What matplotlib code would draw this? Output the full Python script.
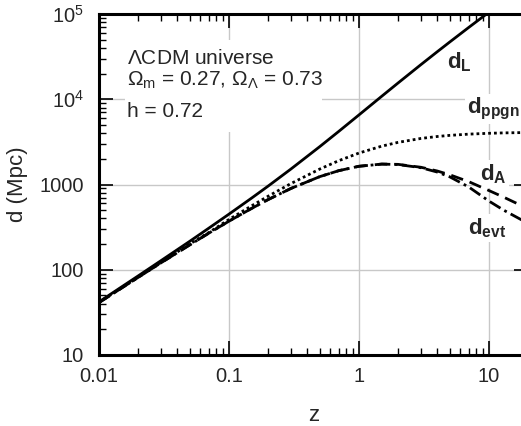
import matplotlib
matplotlib.use("Agg")
import matplotlib.pyplot as plt
from matplotlib.patches import Rectangle
from matplotlib.ticker import LogLocator, NullFormatter

# redshift grid and distances (Mpc)
z = [0.01, 0.02, 0.03, 0.05, 0.07, 0.1, 0.15, 0.2, 0.3, 0.5, 0.7, 1.0,
     1.5, 2.0, 3.0, 4.0, 5.0, 7.0, 10.0, 13.0, 20.0]
d_L = [42.0, 84.6, 127.9, 216, 307.6, 449, 696, 957, 1520, 2784, 4200, 6543,
       10858, 15510, 25480, 36020, 46940, 69590, 104900, 150000, 230000]
d_ppgn = [41.4, 82.1, 122.3, 200.9, 273, 389, 564, 728, 1026, 1518, 1903, 2338,
          2819, 3121, 3469, 3656, 3770, 3897, 3987, 4031, 4073]
d_A = [41.2, 81.3, 120.6, 196, 268.7, 371, 526, 665, 899, 1237, 1453, 1636,
       1737, 1723, 1593, 1441, 1300, 1080, 850, 710, 520]
d_evt = [41.2, 81.3, 120.6, 196, 268.7, 371, 526, 665, 899, 1237, 1453, 1636,
         1735, 1715, 1575, 1400, 1230, 935, 640, 500, 350]

xticks = [0.01, 0.1, 1, 10]
xlabels = ["0.01", "0.1", "1", "10"]
yticks = [10, 100, 1000, 1e4, 1e5]
ylabels = ["10", "100", "1000", "$10^4$", "$10^5$"]

W, H = 521, 426
L, R, T, B = 99, 528, 14, 355   # right spine sits just past the image edge
TXT = "#262626"

plt.rcParams.update({"font.family": "Liberation Sans", "mathtext.fontset": "custom",
                     "mathtext.rm": "Liberation Sans", "mathtext.it": "Liberation Sans:italic",
                     "mathtext.bf": "Liberation Sans:bold"})

fig = plt.figure(figsize=(W / 100, H / 100), dpi=100)
ax = fig.add_axes([L / W, 1 - B / H, (R - L) / W, (B - T) / H])


def axpos(x, y):
    return (x - L) / (R - L), (B - y) / (B - T)


ax.plot(z, d_L, color="black", lw=2.0, zorder=3)
ax.plot(z, d_ppgn, color="black", lw=2.0, ls=(0, (1, 1.1)), zorder=3)
ax.plot(z, d_A, color="black", lw=2.0, ls=(0, (4.5, 2.5)), zorder=3)
ax.plot(z, d_evt, color="black", lw=2.0, ls=(0, (4.5, 1.6, 1, 1.6)), zorder=3)

ax.set_xscale("log")
ax.set_yscale("log")
ax.set_xlim(0.01, 20)
ax.set_ylim(10, 1e5)
ax.set_xticks(xticks)
ax.set_xticklabels(xlabels)
ax.set_yticks(yticks)
ax.set_yticklabels(ylabels)
for a in (ax.xaxis, ax.yaxis):
    a.set_minor_locator(LogLocator(base=10, subs=range(2, 10), numticks=20))
    a.set_minor_formatter(NullFormatter())

ax.tick_params(which="both", direction="in", top=True, right=True,
               labelsize=14.5, labelcolor=TXT, color="black")
ax.tick_params(which="major", length=10, width=1.2)
ax.tick_params(which="minor", length=5, width=1.0, right=False)
ax.tick_params(axis="x", pad=9)
ax.tick_params(axis="y", pad=11)
for s in ("left", "bottom", "top"):
    ax.spines[s].set_linewidth(2.2)
ax.spines["right"].set_visible(False)

ax.grid(True, which="major", color="#c8c8c8", lw=1.0)
ax.set_axisbelow(True)

ax.set_xlabel("z", fontsize=16, color=TXT, labelpad=13)
ax.set_ylabel("d (Mpc)", fontsize=16, color=TXT, labelpad=8)

# white block behind the parameter text
x0, y1 = axpos(125, 40)
x1, y0 = axpos(322, 132)
ax.add_patch(Rectangle((x0, y0), x1 - x0, y1 - y0, transform=ax.transAxes,
                       facecolor="white", edgecolor="none", zorder=1.5))
for txt, yb in [(r"$\Lambda$CDM universe", 64),
                (r"$\Omega_\mathrm{m}$ = 0.27, $\Omega_\Lambda$ = 0.73", 86),
                ("h = 0.72", 117)]:
    ax.text(*axpos(127, yb), txt, transform=ax.transAxes, fontsize=15, color=TXT,
            ha="left", va="baseline", zorder=2)

box = dict(facecolor="white", edgecolor="none", pad=1.5)
for txt, x, yb in [(r"$\mathbf{d_L}$", 447, 68), (r"$\mathbf{d_{ppgn}}$", 467, 113),
                   (r"$\mathbf{d_A}$", 480, 180), (r"$\mathbf{d_{evt}}$", 468, 234)]:
    ax.text(*axpos(x, yb), txt, transform=ax.transAxes, fontsize=16, color=TXT,
            ha="left", va="baseline", bbox=box, zorder=2)

fig.savefig("out.png", dpi=100)
